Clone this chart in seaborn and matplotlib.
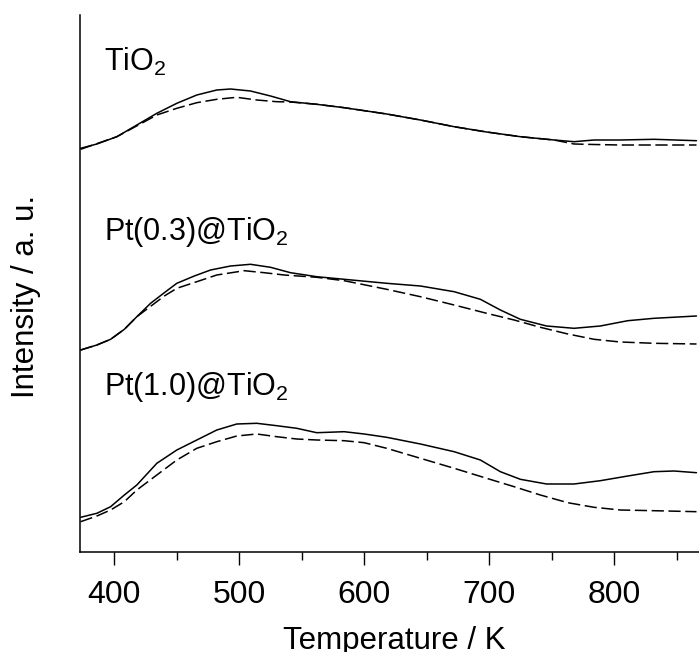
import pandas as pd
import matplotlib.pyplot as plt
import seaborn as sns
from matplotlib.ticker import MultipleLocator

# Readings from the traces (temperature in K, intensity in a.u., curves stacked)
T_tio2_solid = [373, 386, 402, 418, 434, 450, 466, 482, 493, 509, 525, 541, 562, 584, 618,
                645, 672, 698, 725, 752, 768, 784, 805, 832, 866]
I_tio2_solid = [403.7, 408, 415.3, 427, 438.7, 448.7, 457, 462, 463, 461, 456, 450.3, 447.7, 444.3, 438,
                432, 425.3, 420, 415.3, 412, 410.3, 412, 412, 412.7, 411.3]
T_tio2_dash = [373, 402, 434, 450, 466, 482, 498, 514, 530, 541, 562, 584, 618,
               645, 672, 698, 725, 752, 768, 784, 805, 832, 866]
I_tio2_dash = [402.7, 415.3, 437, 443.7, 449.3, 452.7, 454.7, 452, 450.3, 450, 447.7, 444.3, 438,
               432, 425.3, 420, 415.3, 412, 408, 407.5, 407, 407, 407]

T_pt03_solid = [373, 386, 397, 408, 418, 429, 440, 450, 464, 477, 493, 509, 525, 541, 562, 584,
                618, 645, 672, 693, 709, 725, 746, 768, 789, 811, 832, 866]
I_pt03_solid = [202, 207, 212.7, 222.7, 235.3, 248.7, 259.3, 268.7, 276, 282, 286, 287.7, 284.7, 279.3,
                275.3, 272.7, 268.7, 266, 260.3, 252.7, 242, 232.7, 226, 223.7, 226, 231.3, 233.7, 236]
T_pt03_dash = [373, 386, 397, 408, 418, 440, 450, 466, 482, 504, 520, 536, 562, 584, 618, 645,
               672, 698, 720, 741, 763, 784, 805, 832, 866]
I_pt03_dash = [202, 207, 212.7, 222.7, 235.3, 256, 263.7, 270.3, 277, 281.3, 279.3, 277, 274.7, 271.3,
               262.7, 255.3, 247, 238.7, 232, 224.7, 218, 212.7, 210, 208.7, 208]

T_pt10_solid = [373, 386, 397, 408, 418, 434, 450, 466, 482, 498, 514, 530, 546, 562, 584, 600,
                618, 645, 672, 693, 709, 725, 746, 768, 789, 811, 832, 848, 866]
I_pt10_solid = [34.7, 38.7, 45.3, 57, 67, 88.7, 102, 112, 122, 128, 128.7, 126.3, 123.7, 119.3, 120.3,
                118, 114.7, 108, 100.3, 92, 80.3, 72.7, 68, 68, 71.3, 76, 80.3, 81, 79.3]
T_pt10_dash = [373, 386, 397, 408, 418, 434, 450, 466, 482, 498, 514, 530, 546, 562, 584, 600,
               618, 645, 672, 698, 720, 741, 763, 784, 805, 832, 866]
I_pt10_dash = [30.3, 36, 42, 50.3, 62, 77, 92, 103.7, 110.3, 116, 118, 115.3, 113, 112, 111.3, 109.3,
               103.7, 93.7, 83.7, 73.7, 65.3, 57, 49.3, 44.7, 42, 41.3, 40.3]

labels = ["TiO$_2$", "Pt(0.3)@TiO$_2$", "Pt(1.0)@TiO$_2$"]
label_y = [481, 312, 157]

sns.set_theme(style="ticks")
plt.rcParams["font.family"] = ["Liberation Sans", "DejaVu Sans"]
plt.rcParams["mathtext.default"] = "regular"
plt.rcParams["text.color"] = "black"
plt.rcParams["axes.labelcolor"] = "black"
plt.rcParams["xtick.color"] = "black"

fig = plt.figure(figsize=(6.99, 6.52), dpi=100)
ax = fig.add_axes([80 / 699, 100 / 652, 619 / 699, 537 / 652])

solid = [(T_tio2_solid, I_tio2_solid), (T_pt03_solid, I_pt03_solid), (T_pt10_solid, I_pt10_solid)]
dashed = [(T_tio2_dash, I_tio2_dash), (T_pt03_dash, I_pt03_dash), (T_pt10_dash, I_pt10_dash)]

for x, y in solid:
    sns.lineplot(x=x, y=y, ax=ax, color="black", linewidth=1.1, sort=False)
for x, y in dashed:
    sns.lineplot(x=x, y=y, ax=ax, color="black", linewidth=1.1, sort=False,
                 linestyle=(0, (8, 3)))

for lab, ly in zip(labels, label_y):
    ax.text(392, ly, lab, fontsize=22, va="baseline", ha="left", color="black")

ax.set_xlim(372.5, 868)
ax.set_ylim(0, 537)
ax.set_yticks([])
ax.xaxis.set_major_locator(MultipleLocator(100))
ax.xaxis.set_minor_locator(MultipleLocator(50))
ax.tick_params(axis="x", which="major", direction="out", length=9.5, width=1.0,
               labelsize=23, pad=11, color="black", labelcolor="black")
ax.tick_params(axis="x", which="minor", direction="out", length=5.8, width=1.0, color="black")
sns.despine(ax=ax)
for s in ["left", "bottom"]:
    ax.spines[s].set_linewidth(1.1)
    ax.spines[s].set_color("black")

ax.set_xlabel("Temperature / K", fontsize=22.5)
ax.set_ylabel("Intensity / a. u.", fontsize=22.5)
ax.xaxis.set_label_coords(0.507, -0.138)
ax.xaxis.label.set_va("top")
ax.yaxis.set_label_coords(-0.063, 0.475)

plt.savefig("out.png", dpi=100)
